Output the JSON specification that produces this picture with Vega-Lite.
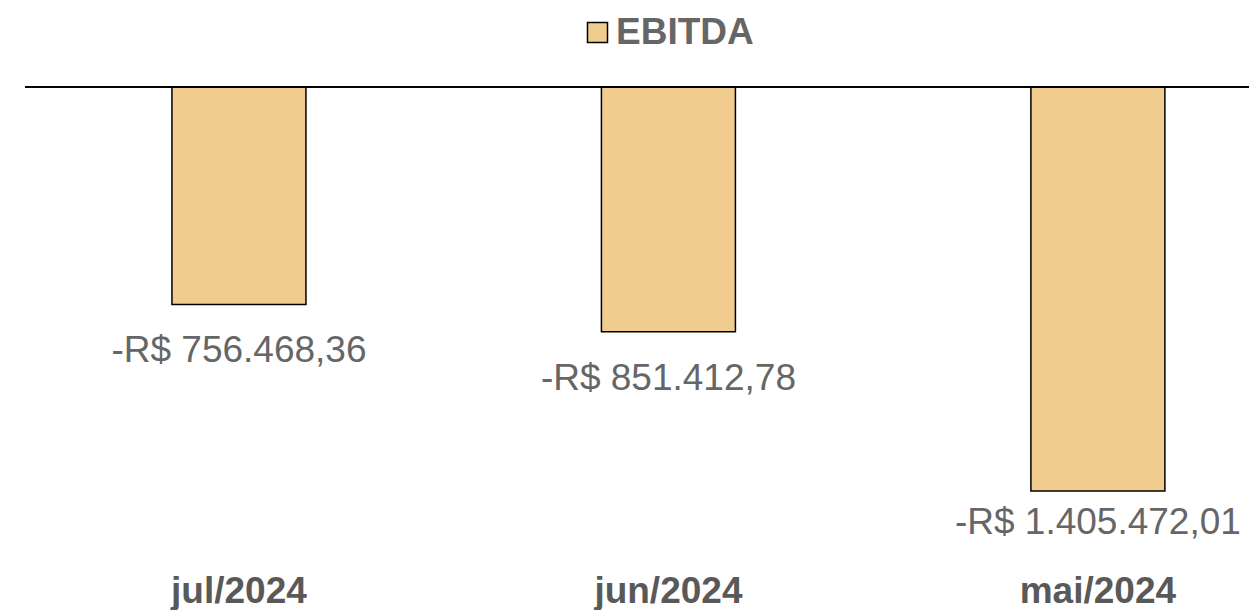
{
  "$schema": "https://vega.github.io/schema/vega-lite/v6.json",
  "autosize": "none",
  "width": 1224,
  "height": 473,
  "padding": {"left": 25, "top": 87, "right": 0, "bottom": 50},
  "background": "white",
  "config": {
    "view": {"stroke": null},
    "font": "Liberation Sans",
    "locale": {
      "number": {
        "decimal": ",",
        "thousands": ".",
        "grouping": [3],
        "currency": ["R$ ", ""],
        "minus": "-"
      }
    }
  },
  "data": {
    "values": [
      {"mes": "jul/2024", "serie": "EBITDA", "valor": -756468.36},
      {"mes": "jun/2024", "serie": "EBITDA", "valor": -851412.78},
      {"mes": "mai/2024", "serie": "EBITDA", "valor": -1405472.01}
    ]
  },
  "encoding": {
    "x": {
      "field": "mes",
      "type": "nominal",
      "sort": null,
      "scale": {"paddingInner": 0.688, "paddingOuter": 0.269, "align": 0.636},
      "axis": {
        "title": null,
        "orient": "bottom",
        "domain": false,
        "ticks": false,
        "labelAngle": 0,
        "labelFont": "Liberation Sans",
        "labelFontSize": 37,
        "labelFontWeight": "bold",
        "labelColor": "#595959",
        "labelPadding": 13
      }
    },
    "y": {
      "field": "valor",
      "type": "quantitative",
      "scale": {"domain": [-1645500, 0], "nice": false, "zero": true},
      "axis": null
    }
  },
  "layer": [
    {
      "mark": {"type": "bar", "stroke": "black", "strokeWidth": 1.5},
      "encoding": {
        "color": {
          "field": "serie",
          "type": "nominal",
          "scale": {"range": ["#F0CD8F"]},
          "legend": {
            "title": null,
            "orient": "none",
            "legendX": 554,
            "legendY": -73,
            "padding": 0,
            "symbolType": "square",
            "symbolSize": 400,
            "symbolStrokeColor": "black",
            "symbolStrokeWidth": 1.5,
            "labelFont": "Liberation Sans",
            "labelFontSize": 37,
            "labelFontWeight": "bold",
            "labelColor": "#666666",
            "labelOffset": 0
          }
        }
      }
    },
    {
      "transform": [{"filter": "datum.valor > -1000000"}],
      "mark": {
        "type": "text",
        "baseline": "top",
        "align": "center",
        "dy": 29,
        "fontSize": 37,
        "font": "Liberation Sans",
        "color": "#666666"
      },
      "encoding": {
        "text": {"field": "valor", "type": "quantitative", "format": "$,.2f"}
      }
    },
    {
      "transform": [{"filter": "datum.valor <= -1000000"}],
      "mark": {
        "type": "text",
        "baseline": "top",
        "align": "center",
        "dy": 14,
        "fontSize": 37,
        "font": "Liberation Sans",
        "color": "#666666"
      },
      "encoding": {
        "text": {"field": "valor", "type": "quantitative", "format": "$,.2f"}
      }
    },
    {
      "mark": {"type": "rule", "color": "black", "strokeWidth": 1.5},
      "encoding": {
        "x": {"value": 0},
        "x2": {"value": 1224},
        "y": {"datum": 0}
      }
    }
  ]
}
